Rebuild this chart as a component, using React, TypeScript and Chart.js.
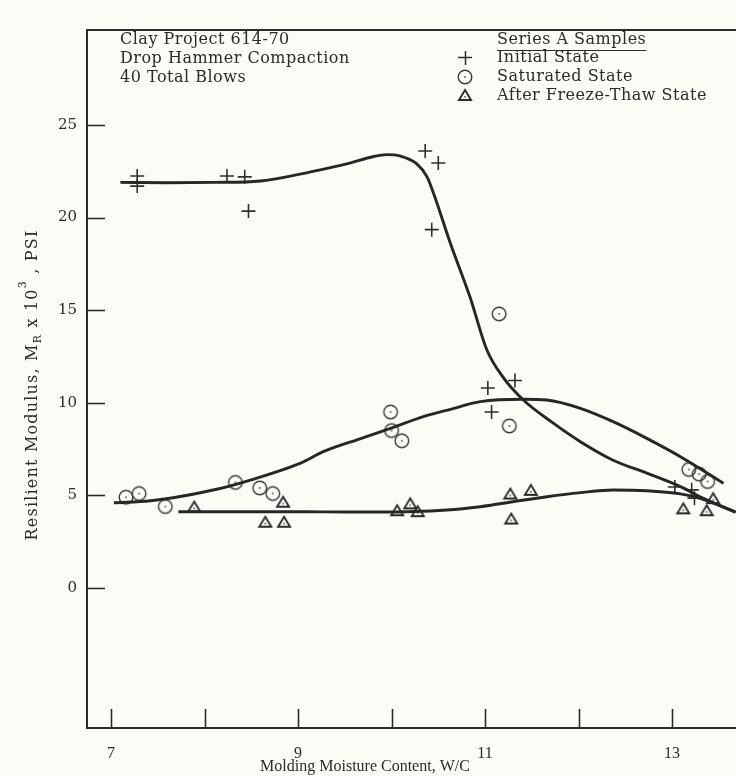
import React, { useEffect, useRef } from "react";
import { Chart, registerables } from "chart.js";

Chart.register(...registerables);

// ---- axis ticks ----
const xTickValues = [7, 8, 9, 10, 11, 12, 13];
const xTickLabels = ["7", "", "9", "", "11", "", "13"];
const yTickValues = [0, 5, 10, 15, 20, 25];
const yTickLabels = ["0", "5", "10", "15", "20", "25"];

// ---- Initial State (+) ----
const initialX = [7.28, 7.28, 8.24, 8.43, 8.47, 10.36, 10.5, 10.43, 11.03, 11.32, 11.07, 13.03, 13.21, 13.24];
const initialY = [22.25, 21.7, 22.25, 22.2, 20.35, 23.6, 22.95, 19.35, 10.8, 11.2, 9.5, 5.45, 5.3, 4.85];

// ---- Saturated State (circle) ----
const saturatedX = [7.16, 7.3, 7.58, 8.33, 8.59, 8.73, 9.99, 10.0, 10.11, 11.15, 11.26, 13.18, 13.29, 13.38];
const saturatedY = [4.9, 5.1, 4.4, 5.7, 5.4, 5.1, 9.5, 8.5, 7.95, 14.8, 8.75, 6.4, 6.15, 5.75];

// ---- After Freeze-Thaw State (triangle) ----
const freezeX = [7.89, 8.65, 8.84, 8.85, 10.06, 10.2, 10.28, 11.27, 11.28, 11.49, 13.12, 13.37, 13.44];
const freezeY = [4.4, 3.58, 4.66, 3.58, 4.2, 4.57, 4.15, 5.1, 3.75, 5.3, 4.3, 4.2, 4.85];

// ---- fitted curves ----
const initialCurveX = [7.1, 7.6, 8.1, 8.6, 9.16, 9.52, 9.81, 9.95, 10.09, 10.27, 10.38, 10.45, 10.63, 10.84, 11.02, 11.19, 11.41, 11.73, 12.02, 12.37, 12.73, 13.09, 13.3, 13.68];
const initialCurveY = [21.9, 21.88, 21.9, 21.98, 22.5, 22.9, 23.3, 23.4, 23.33, 22.9, 22.2, 21.3, 18.6, 15.7, 12.85, 11.4, 10.15, 8.9, 7.9, 6.9, 6.2, 5.47, 4.93, 4.1];

const saturatedCurveX = [7.03, 7.42, 7.77, 8.13, 8.49, 9.02, 9.27, 9.63, 9.98, 10.34, 10.63, 10.95, 11.41, 11.66, 12.02, 12.37, 12.73, 13.09, 13.55];
const saturatedCurveY = [4.6, 4.71, 4.97, 5.33, 5.83, 6.73, 7.36, 8.0, 8.6, 9.25, 9.65, 10.06, 10.19, 10.15, 9.7, 8.98, 8.08, 7.09, 5.65];

const freezeCurveX = [7.72, 8.5, 9.3, 9.88, 10.59, 10.95, 11.3, 11.66, 12.02, 12.37, 12.73, 13.09, 13.3, 13.68];
const freezeCurveY = [4.12, 4.12, 4.11, 4.1, 4.21, 4.39, 4.66, 4.93, 5.15, 5.29, 5.25, 5.08, 4.84, 4.1];

// ---- texts ----
const noteLines = ["Clay Project 614-70", "Drop Hammer Compaction", "40 Total Blows"];
const legendTitle = "Series A Samples";
const legendLabels = ["Initial State", "Saturated State", "After Freeze-Thaw State"];
const xTitle = "Molding Moisture Content, W/C";

const FONT = "'DejaVu Serif', 'Liberation Serif', serif";
const NARROW = "'Liberation Serif', 'DejaVu Serif', serif";
const INK = "#2b2b2b";

const toPts = (xs: number[], ys: number[]) => xs.map((x, i) => ({ x, y: ys[i] }));

function makeCircleDot(): HTMLCanvasElement {
  const c = document.createElement("canvas");
  c.width = 18;
  c.height = 18;
  const g = c.getContext("2d")!;
  g.strokeStyle = "#3a3a3a";
  g.lineWidth = 1.4;
  g.beginPath();
  g.arc(9, 9, 6.8, 0, Math.PI * 2);
  g.stroke();
  g.fillStyle = "#555";
  g.beginPath();
  g.arc(9, 9, 0.9, 0, Math.PI * 2);
  g.fill();
  return c;
}

function makeTriangleDot(): HTMLCanvasElement {
  const c = document.createElement("canvas");
  c.width = 16;
  c.height = 14;
  const g = c.getContext("2d")!;
  g.strokeStyle = "#2a2a2a";
  g.lineWidth = 1.9;
  g.lineJoin = "miter";
  g.beginPath();
  g.moveTo(8, 2);
  g.lineTo(14, 12);
  g.lineTo(2, 12);
  g.closePath();
  g.stroke();
  g.fillStyle = "#444";
  g.beginPath();
  g.arc(8, 8.8, 0.9, 0, Math.PI * 2);
  g.fill();
  return c;
}

export default function App() {
  const ref = useRef<HTMLCanvasElement | null>(null);

  useEffect(() => {
    document.body.style.margin = "0";
    const canvas = ref.current;
    if (!canvas) return;
    const circleImg = makeCircleDot();
    const triImg = makeTriangleDot();

    const decor = {
      id: "decor",
      beforeDraw(chart: any) {
        const ctx = chart.ctx;
        ctx.save();
        ctx.fillStyle = "#fcfcf7";
        ctx.fillRect(0, 0, chart.width, chart.height);
        ctx.restore();
      },
      afterDraw(chart: any) {
        const ctx = chart.ctx;
        const { left, right, top, bottom } = chart.chartArea;
        const xs = chart.scales.x;
        const ys = chart.scales.y;
        ctx.save();
        ctx.strokeStyle = INK;
        // top frame
        ctx.lineWidth = 2;
        ctx.beginPath();
        ctx.moveTo(left - 1, top);
        ctx.lineTo(right, top);
        ctx.stroke();
        // inner tick marks
        ctx.lineWidth = 1.6;
        xTickValues.forEach((v) => {
          const px = Math.round(xs.getPixelForValue(v)) + 0.5;
          ctx.beginPath();
          ctx.moveTo(px, bottom);
          ctx.lineTo(px, bottom - 19);
          ctx.stroke();
        });
        yTickValues.forEach((v) => {
          const py = Math.round(ys.getPixelForValue(v)) + 0.5;
          ctx.beginPath();
          ctx.moveTo(left, py);
          ctx.lineTo(left + 18, py);
          ctx.stroke();
        });

        // notes
        ctx.fillStyle = INK;
        ctx.font = `16px ${FONT}`;
        (ctx as any).letterSpacing = "0.5px";
        ctx.textBaseline = "middle";
        ctx.textAlign = "left";
        noteLines.forEach((t, i) => ctx.fillText(t, 120, 40 + i * 19));

        // legend
        const lx = 497;
        ctx.fillText(legendTitle, lx, 40);
        const w = ctx.measureText(legendTitle).width;
        ctx.lineWidth = 1.2;
        ctx.beginPath();
        ctx.moveTo(lx, 50.5);
        ctx.lineTo(lx + w, 50.5);
        ctx.stroke();
        legendLabels.forEach((t, i) => ctx.fillText(t, lx, 58 + i * 19));
        // legend markers
        ctx.lineWidth = 1.5;
        ctx.beginPath();
        ctx.moveTo(458, 57.5);
        ctx.lineTo(472, 57.5);
        ctx.moveTo(465.5, 51);
        ctx.lineTo(465.5, 65);
        ctx.stroke();
        ctx.drawImage(circleImg, 465 - 9, 77 - 9);
        ctx.drawImage(triImg, 465 - 8, 95 - 7);

        // x title
        (ctx as any).letterSpacing = "0px";
        ctx.textAlign = "center";
        ctx.font = `16px ${NARROW}`;
        ctx.fillText(xTitle, 365, 767);

        // y title with subscript/superscript
        (ctx as any).letterSpacing = "1.2px";
        ctx.translate(33, 385);
        ctx.rotate(-Math.PI / 2);
        const big = `16px ${FONT}`;
        const small = `11px ${FONT}`;
        const pieces = [
          { t: "Resilient Modulus, M", f: big, dy: 0 },
          { t: "R", f: small, dy: 5 },
          { t: " x 10", f: big, dy: 0 },
          { t: "3", f: small, dy: -10 },
          { t: " , PSI", f: big, dy: 0 },
        ];
        let total = 0;
        pieces.forEach((p) => {
          ctx.font = p.f;
          total += ctx.measureText(p.t).width;
        });
        let cx = -total / 2;
        ctx.textAlign = "left";
        pieces.forEach((p) => {
          ctx.font = p.f;
          ctx.fillText(p.t, cx, p.dy);
          cx += ctx.measureText(p.t).width;
        });
        ctx.restore();
      },
    };

    const curveStyle = {
      showLine: true,
      pointRadius: 0,
      borderColor: "#262626",
      borderWidth: 2.9,
      cubicInterpolationMode: "monotone" as const,
      fill: false,
    };

    const chart = new Chart(canvas, {
      type: "scatter",
      data: {
        datasets: [
          { label: "Initial curve", data: toPts(initialCurveX, initialCurveY), ...curveStyle },
          { label: "Saturated curve", data: toPts(saturatedCurveX, saturatedCurveY), ...curveStyle },
          { label: "Freeze-thaw curve", data: toPts(freezeCurveX, freezeCurveY), ...curveStyle },
          {
            label: "Initial State",
            data: toPts(initialX, initialY),
            pointStyle: "cross",
            pointRadius: 7,
            borderColor: "#2e2e2e",
            borderWidth: 1.6,
            showLine: false,
          },
          {
            label: "Saturated State",
            data: toPts(saturatedX, saturatedY),
            pointStyle: circleImg as any,
            showLine: false,
          },
          {
            label: "After Freeze-Thaw State",
            data: toPts(freezeX, freezeY),
            pointStyle: triImg as any,
            showLine: false,
          },
        ],
      },
      options: {
        responsive: false,
        animation: false,
        devicePixelRatio: 1,
        layout: { autoPadding: false, padding: { top: 30, left: 0, right: 0, bottom: 0 } },
        plugins: { legend: { display: false }, tooltip: { enabled: false } },
        scales: {
          x: {
            type: "linear",
            min: 6.743,
            max: 13.684,
            grid: { display: false },
            border: { display: true, color: INK, width: 2 },
            afterBuildTicks: (s: any) => {
              s.ticks = xTickValues.map((v) => ({ value: v }));
            },
            afterFit: (s: any) => {
              s.height = 48;
              s.paddingLeft = 0;
              s.paddingRight = 0;
            },
            ticks: {
              autoSkip: false,
              maxRotation: 0,
              padding: 8,
              color: INK,
              font: { family: NARROW, size: 16 },
              callback: (v: any) => {
                const i = xTickValues.indexOf(Number(v));
                return i >= 0 ? xTickLabels[i] : "";
              },
            },
          },
          y: {
            type: "linear",
            min: -7.56,
            max: 30.13,
            grid: { display: false },
            border: { display: true, color: INK, width: 2 },
            afterBuildTicks: (s: any) => {
              s.ticks = yTickValues.map((v) => ({ value: v }));
            },
            afterFit: (s: any) => {
              s.width = 87;
              s.paddingTop = 0;
              s.paddingBottom = 0;
            },
            ticks: {
              autoSkip: false,
              padding: 2,
              color: INK,
              font: { family: FONT, size: 15 },
              callback: (v: any) => {
                const i = yTickValues.indexOf(Number(v));
                return i >= 0 ? yTickLabels[i] : "";
              },
            },
          },
        },
      },
      plugins: [decor],
    });
    return () => chart.destroy();
  }, []);

  return (
    <div style={{ width: 736, height: 776 }}>
      <canvas ref={ref} width={736} height={776} style={{ display: "block" }} />
    </div>
  );
}
